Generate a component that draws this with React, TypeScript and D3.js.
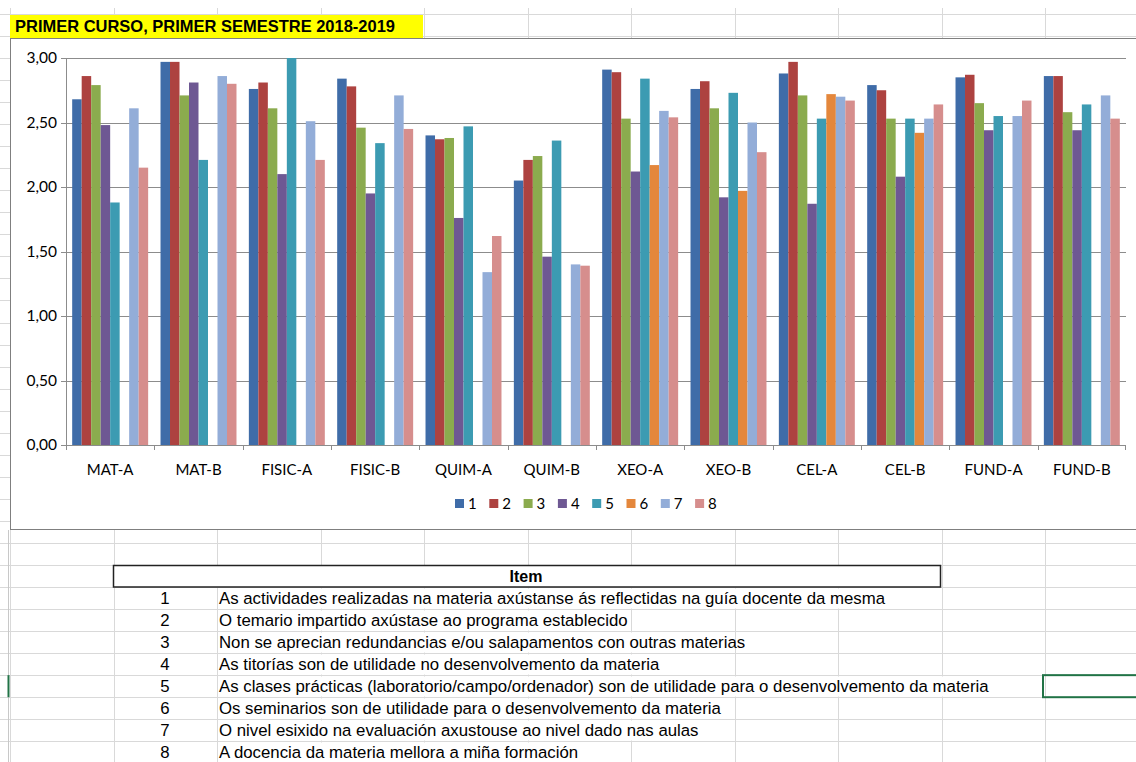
import React from 'react';
import * as d3 from 'd3';

const categories = ['MAT-A', 'MAT-B', 'FISIC-A', 'FISIC-B', 'QUIM-A', 'QUIM-B', 'XEO-A', 'XEO-B', 'CEL-A', 'CEL-B', 'FUND-A', 'FUND-B'];
const itemKeys = ['1', '2', '3', '4', '5', '6', '7', '8'];

const item1 = [2.68, 2.97, 2.76, 2.84, 2.40, 2.05, 2.91, 2.76, 2.88, 2.79, 2.85, 2.86];
const item2 = [2.86, 2.97, 2.81, 2.78, 2.37, 2.21, 2.89, 2.82, 2.97, 2.75, 2.87, 2.86];
const item3 = [2.79, 2.71, 2.61, 2.46, 2.38, 2.24, 2.53, 2.61, 2.71, 2.53, 2.65, 2.58];
const item4 = [2.48, 2.81, 2.10, 1.95, 1.76, 1.46, 2.12, 1.92, 1.87, 2.08, 2.44, 2.44];
const item5 = [1.88, 2.21, 3.00, 2.34, 2.47, 2.36, 2.84, 2.73, 2.53, 2.53, 2.55, 2.64];
const item6 = [null, null, null, null, null, null, 2.17, 1.97, 2.72, 2.42, null, null];
const item7 = [2.61, 2.86, 2.51, 2.71, 1.34, 1.40, 2.59, 2.50, 2.70, 2.53, 2.55, 2.71];
const item8 = [2.15, 2.80, 2.21, 2.45, 1.62, 1.39, 2.54, 2.27, 2.67, 2.64, 2.67, 2.53];

const seriesValues: (number | null)[][] = [item1, item2, item3, item4, item5, item6, item7, item8];
const seriesColors = ['#3F6CA8', '#AD4240', '#8BAB4E', '#6E5893', '#3C9BB2', '#E4873C', '#93ADD8', '#D68E8D'];

const yTicks = [0, 0.5, 1, 1.5, 2, 2.5, 3];

const titleText = 'PRIMER CURSO, PRIMER SEMESTRE 2018-2019';
const tableHeader = 'Item';
const tableNumbers = ['1', '2', '3', '4', '5', '6', '7', '8'];
const tableTexts = [
  'As actividades realizadas na materia axústanse ás reflectidas na guía docente da mesma',
  'O temario impartido axústase ao programa establecido',
  'Non se aprecian redundancias e/ou salapamentos con outras materias',
  'As titorías son de utilidade no desenvolvemento da materia',
  'As clases prácticas (laboratorio/campo/ordenador) son de utilidade para o desenvolvemento da materia',
  'Os seminarios son de utilidade para o desenvolvemento da materia',
  'O nivel esixido na evaluación axustouse ao nivel dado nas aulas',
  'A docencia da materia mellora a miña formación',
];

const W = 1136;
const H = 762;
const plot = { left: 66, right: 1126, top: 58, bottom: 445 };
const colW = 103.5;
const colX0 = 10;
const rowH = 22.04;
const rowY0 = 587;
const chartFont = 'Lato, "Open Sans", sans-serif';
const sheetFont = '"Liberation Sans", Arial, sans-serif';
const tableFontSize = 16.8;
const approxCharW = 7.75;

export default function App() {
  const x0 = d3.scaleBand<string>().domain(categories).range([plot.left, plot.right]).paddingInner(0).paddingOuter(0);
  const groupGap = x0.bandwidth() * 0.14;
  const x1 = d3.scaleBand<string>().domain(itemKeys).range([groupGap / 2, x0.bandwidth() - groupGap / 2]).padding(0);
  const y = d3.scaleLinear().domain([0, 3]).range([plot.bottom, plot.top]);
  const fmt = (v: number) => d3.format('.2f')(v).replace('.', ',');

  const vLines = d3.range(0, 12).map((k) => colX0 + colW * k);
  const hLines = d3.range(-26, 9).map((k) => rowY0 + rowH * k);
  const coverEnd = (len: number) => {
    const end = 219 + len * approxCharW;
    const k = Math.ceil((end - colX0) / colW);
    return colX0 + colW * k - 1;
  };

  const legendStep = 34.3;
  const legendX0 = 455;
  const legendY = 504;

  return (
    <svg width={W} height={H} style={{ position: 'absolute', left: 0, top: 0, background: '#fff' }}>
      <rect x={0} y={0} width={W} height={H} fill="#fff" />
      {/* spreadsheet grid */}
      {vLines.map((vx, i) => (
        <line key={'v' + i} x1={Math.round(vx) + 0.5} x2={Math.round(vx) + 0.5} y1={8} y2={H} stroke="#d9d9d9" strokeWidth={1} />
      ))}
      {hLines.map((hy, i) => (
        <line key={'h' + i} x1={0} x2={W} y1={Math.round(hy) + 0.5} y2={Math.round(hy) + 0.5} stroke="#d9d9d9" strokeWidth={1} />
      ))}
      <line x1={8.5} x2={8.5} y1={530} y2={H} stroke="#c8c8c8" strokeWidth={1} />
      <line x1={8.5} x2={8.5} y1={rowY0 + rowH * 4} y2={rowY0 + rowH * 5} stroke="#217346" strokeWidth={2} />

      {/* title cell */}
      <rect x={10} y={15} width={413} height={23} fill="#FFFF00" />
      <text x={15} y={32} fontFamily={sheetFont} fontWeight="bold" fontSize={16.5} fill="#000" textLength={380} lengthAdjust="spacingAndGlyphs">
        {titleText}
      </text>

      {/* chart area */}
      <rect x={10.5} y={38.5} width={1140} height={491} fill="#fff" stroke="#7f7f7f" strokeWidth={1} />

      {/* gridlines */}
      {yTicks.map((t) => (
        <g key={'g' + t}>
          <line x1={plot.left - 5} x2={plot.right} y1={Math.round(y(t)) + 0.5} y2={Math.round(y(t)) + 0.5} stroke="#8c8c8c" strokeWidth={1} />
          <text x={plot.left - 9} y={y(t)} dy="0.35em" textAnchor="end" fontFamily={chartFont} fontSize={15.5} fill="#000">
            {fmt(t)}
          </text>
        </g>
      ))}

      {/* bars */}
      {categories.map((c, ci) => (
        <g key={c} transform={`translate(${x0(c)},0)`}>
          {seriesValues.map((vals, si) => {
            const v = vals[ci];
            if (v == null) return null;
            return (
              <rect
                key={si}
                x={x1(itemKeys[si])}
                y={y(v)}
                width={x1.bandwidth()}
                height={y(0) - y(v)}
                fill={seriesColors[si]}
              />
            );
          })}
        </g>
      ))}

      {/* axes */}
      <line x1={plot.left + 0.5} x2={plot.left + 0.5} y1={plot.top} y2={plot.bottom} stroke="#8c8c8c" strokeWidth={1} />
      <line x1={plot.left} x2={plot.right} y1={plot.bottom + 0.5} y2={plot.bottom + 0.5} stroke="#8c8c8c" strokeWidth={1} />
      {categories.map((c) => (
        <line key={'t' + c} x1={Math.round(x0(c)!) + 0.5} x2={Math.round(x0(c)!) + 0.5} y1={plot.bottom} y2={plot.bottom + 5} stroke="#8c8c8c" />
      ))}
      <line x1={plot.right - 0.5} x2={plot.right - 0.5} y1={plot.bottom} y2={plot.bottom + 5} stroke="#8c8c8c" />
      {categories.map((c) => (
        <text key={'l' + c} x={x0(c)! + x0.bandwidth() / 2} y={475} textAnchor="middle" fontFamily={chartFont} fontSize={15} fill="#000">
          {c}
        </text>
      ))}

      {/* legend */}
      {itemKeys.map((k, i) => (
        <g key={'lg' + k} transform={`translate(${legendX0 + i * legendStep},${legendY})`}>
          <rect x={0} y={-5} width={9} height={9} fill={seriesColors[i]} />
          <text x={13} y={0} dy="0.36em" fontFamily={chartFont} fontSize={15} fill="#000">
            {k}
          </text>
        </g>
      ))}

      {/* table */}
      <rect x={113.5} y={565.5} width={827} height={21.5} fill="#fff" stroke="#222" strokeWidth={1.5} />
      <text x={526} y={582} textAnchor="middle" fontFamily={sheetFont} fontWeight="bold" fontSize={16} fill="#000">
        {tableHeader}
      </text>
      {tableNumbers.map((n, i) => (
        <g key={'row' + n}>
          <rect x={218.5} y={Math.round(rowY0 + rowH * i) + 1.5} width={coverEnd(tableTexts[i].length) - 218.5} height={rowH - 2} fill="#fff" />
          <text x={165} y={rowY0 + rowH * i + 17} textAnchor="middle" fontFamily={sheetFont} fontSize={tableFontSize} fill="#000">
            {n}
          </text>
          <text x={219} y={rowY0 + rowH * i + 17} fontFamily={sheetFont} fontSize={tableFontSize} fill="#000">
            {tableTexts[i]}
          </text>
        </g>
      ))}
      <rect x={1043} y={rowY0 + rowH * 4} width={100} height={rowH} fill="none" stroke="#217346" strokeWidth={2} />
    </svg>
  );
}
